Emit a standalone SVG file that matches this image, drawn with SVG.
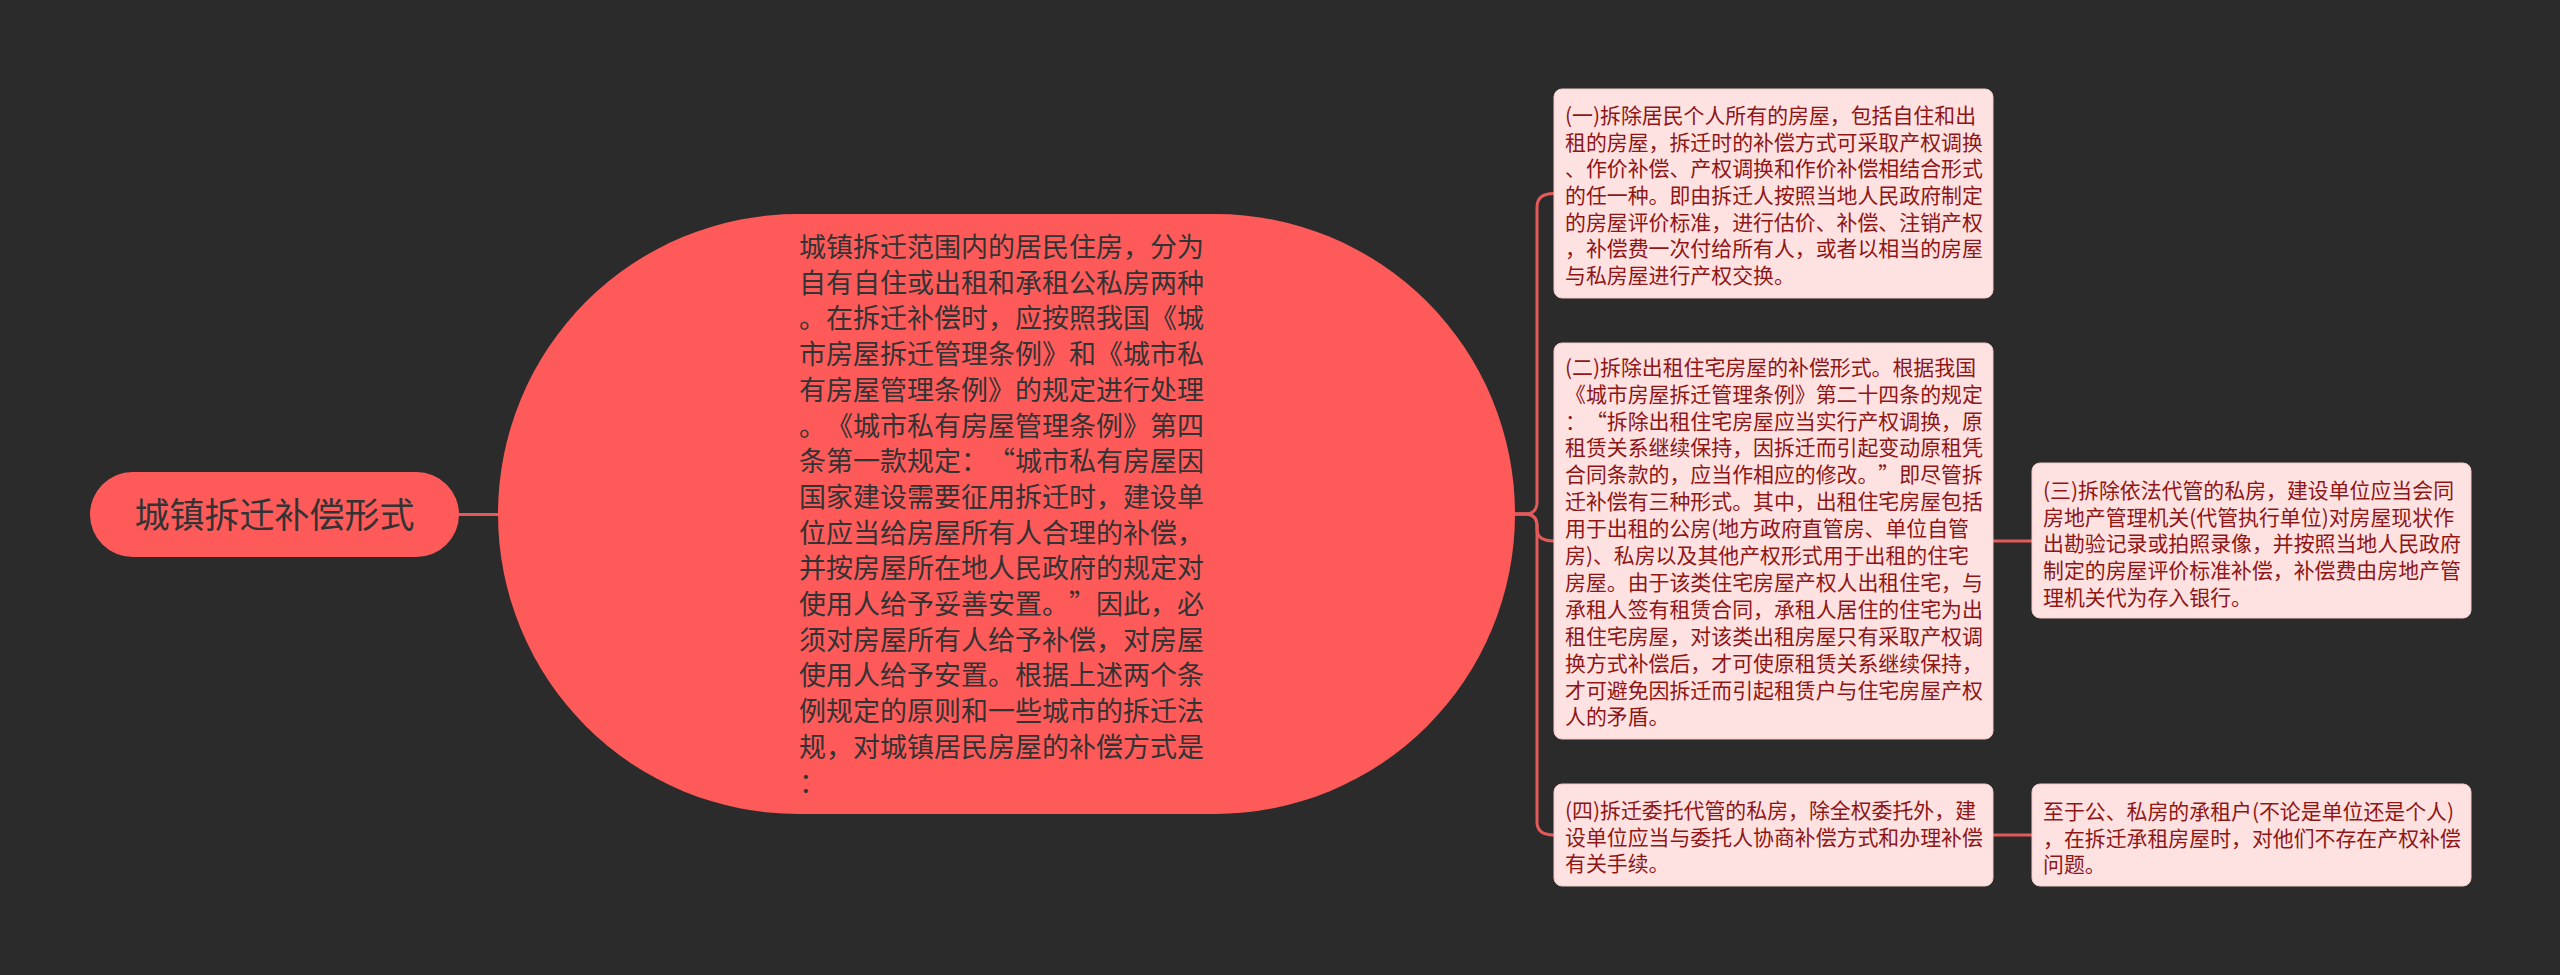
<svg xmlns="http://www.w3.org/2000/svg" width="2560" height="975" viewBox="0 0 2560 975">
<style>
.bg{fill:#2b2b2b}
.main{fill:#fe5a5a}
.leaf{fill:#fee1e1;stroke:#f4caca;stroke-width:1}
.conn{fill:none;stroke:#e45a5a;stroke-width:3;stroke-linecap:round}
text{text-spacing-trim:space-all;font-kerning:none;font-feature-settings:"chws" 0,"halt" 0,"palt" 0}
.t-root{font-family:"Noto Sans CJK SC","Noto Sans",sans-serif;font-size:35px;fill:#333333}
.t-main{font-family:"Noto Sans CJK SC","Noto Sans",sans-serif;font-size:27px;fill:#333333}
.t-leaf{font-family:"Noto Sans CJK SC","Noto Sans",sans-serif;font-size:20.9px;fill:#8e1616}
</style>
<rect class="bg" x="0" y="0" width="2560" height="975"/>
<g id="connectors">
<path class="conn" d="M459 514.5 H498"/>
<path class="conn" d="M1515 514 H1525 Q1537 514 1537 502 V207 Q1537 193.5 1554 193.5"/>
<path class="conn" d="M1515 514 H1525 Q1537 514 1537 526 V529 Q1537 541 1554 541"/>
<path class="conn" d="M1515 514 H1525 Q1537 514 1537 526 V822 Q1537 835 1554 835"/>
<path class="conn" d="M1993 541 H2032"/>
<path class="conn" d="M1993 835 H2032"/>
</g>
<g id="root">
<rect class="main" x="90" y="472" width="369" height="85" rx="42.5"/>
<text class="t-root" x="274.5" y="527.5" text-anchor="middle">城镇拆迁补偿形式</text>
</g>
<g id="main">
<rect class="main" x="498" y="214" width="1017" height="600" rx="300" ry="300"/>
<text class="t-main" x="799" y="257">
<tspan x="799" dy="0">城镇拆迁范围内的居民住房，分为</tspan>
<tspan x="799" dy="35.7">自有自住或出租和承租公私房两种</tspan>
<tspan x="799" dy="35.7">。在拆迁补偿时，应按照我国《城</tspan>
<tspan x="799" dy="35.7">市房屋拆迁管理条例》和《城市私</tspan>
<tspan x="799" dy="35.7">有房屋管理条例》的规定进行处理</tspan>
<tspan x="799" dy="35.7">。《城市私有房屋管理条例》第四</tspan>
<tspan x="799" dy="35.7">条第一款规定：“城市私有房屋因</tspan>
<tspan x="799" dy="35.7">国家建设需要征用拆迁时，建设单</tspan>
<tspan x="799" dy="35.7">位应当给房屋所有人合理的补偿，</tspan>
<tspan x="799" dy="35.7">并按房屋所在地人民政府的规定对</tspan>
<tspan x="799" dy="35.7">使用人给予妥善安置。”因此，必</tspan>
<tspan x="799" dy="35.7">须对房屋所有人给予补偿，对房屋</tspan>
<tspan x="799" dy="35.7">使用人给予安置。根据上述两个条</tspan>
<tspan x="799" dy="35.7">例规定的原则和一些城市的拆迁法</tspan>
<tspan x="799" dy="35.7">规，对城镇居民房屋的补偿方式是</tspan>
<tspan x="799" dy="35.7">：</tspan>
</text>
</g>
<g id="node1">
<rect class="leaf" x="1554" y="89" width="439" height="209" rx="8"/>
<text class="t-leaf" x="1565" y="123">
<tspan x="1565" dy="0">(一)拆除居民个人所有的房屋，包括自住和出</tspan>
<tspan x="1565" dy="26.67">租的房屋，拆迁时的补偿方式可采取产权调换</tspan>
<tspan x="1565" dy="26.67">、作价补偿、产权调换和作价补偿相结合形式</tspan>
<tspan x="1565" dy="26.67">的任一种。即由拆迁人按照当地人民政府制定</tspan>
<tspan x="1565" dy="26.67">的房屋评价标准，进行估价、补偿、注销产权</tspan>
<tspan x="1565" dy="26.67">，补偿费一次付给所有人，或者以相当的房屋</tspan>
<tspan x="1565" dy="26.67">与私房屋进行产权交换。</tspan>
</text>
</g>
<g id="node2">
<rect class="leaf" x="1554" y="343" width="439" height="396" rx="8"/>
<text class="t-leaf" x="1565" y="374.7">
<tspan x="1565" dy="0">(二)拆除出租住宅房屋的补偿形式。根据我国</tspan>
<tspan x="1565" dy="26.9">《城市房屋拆迁管理条例》第二十四条的规定</tspan>
<tspan x="1565" dy="26.9">：“拆除出租住宅房屋应当实行产权调换，原</tspan>
<tspan x="1565" dy="26.9">租赁关系继续保持，因拆迁而引起变动原租凭</tspan>
<tspan x="1565" dy="26.9">合同条款的，应当作相应的修改。”即尽管拆</tspan>
<tspan x="1565" dy="26.9">迁补偿有三种形式。其中，出租住宅房屋包括</tspan>
<tspan x="1565" dy="26.9">用于出租的公房(地方政府直管房、单位自管</tspan>
<tspan x="1565" dy="26.9">房)、私房以及其他产权形式用于出租的住宅</tspan>
<tspan x="1565" dy="26.9">房屋。由于该类住宅房屋产权人出租住宅，与</tspan>
<tspan x="1565" dy="26.9">承租人签有租赁合同，承租人居住的住宅为出</tspan>
<tspan x="1565" dy="26.9">租住宅房屋，对该类出租房屋只有采取产权调</tspan>
<tspan x="1565" dy="26.9">换方式补偿后，才可使原租赁关系继续保持，</tspan>
<tspan x="1565" dy="26.9">才可避免因拆迁而引起租赁户与住宅房屋产权</tspan>
<tspan x="1565" dy="26.9">人的矛盾。</tspan>
</text>
</g>
<g id="node3">
<rect class="leaf" x="2032" y="463" width="439" height="155" rx="8"/>
<text class="t-leaf" x="2043" y="498">
<tspan x="2043" dy="0">(三)拆除依法代管的私房，建设单位应当会同</tspan>
<tspan x="2043" dy="26.67">房地产管理机关(代管执行单位)对房屋现状作</tspan>
<tspan x="2043" dy="26.67">出勘验记录或拍照录像，并按照当地人民政府</tspan>
<tspan x="2043" dy="26.67">制定的房屋评价标准补偿，补偿费由房地产管</tspan>
<tspan x="2043" dy="26.67">理机关代为存入银行。</tspan>
</text>
</g>
<g id="node4">
<rect class="leaf" x="1554" y="784" width="439" height="102" rx="8"/>
<text class="t-leaf" x="1565" y="818">
<tspan x="1565" dy="0">(四)拆迁委托代管的私房，除全权委托外，建</tspan>
<tspan x="1565" dy="26.67">设单位应当与委托人协商补偿方式和办理补偿</tspan>
<tspan x="1565" dy="26.67">有关手续。</tspan>
</text>
</g>
<g id="node5">
<rect class="leaf" x="2032" y="784" width="439" height="102" rx="8"/>
<text class="t-leaf" x="2043" y="819">
<tspan x="2043" dy="0">至于公、私房的承租户(不论是单位还是个人)</tspan>
<tspan x="2043" dy="26.67">，在拆迁承租房屋时，对他们不存在产权补偿</tspan>
<tspan x="2043" dy="26.67">问题。</tspan>
</text>
</g>
</svg>
